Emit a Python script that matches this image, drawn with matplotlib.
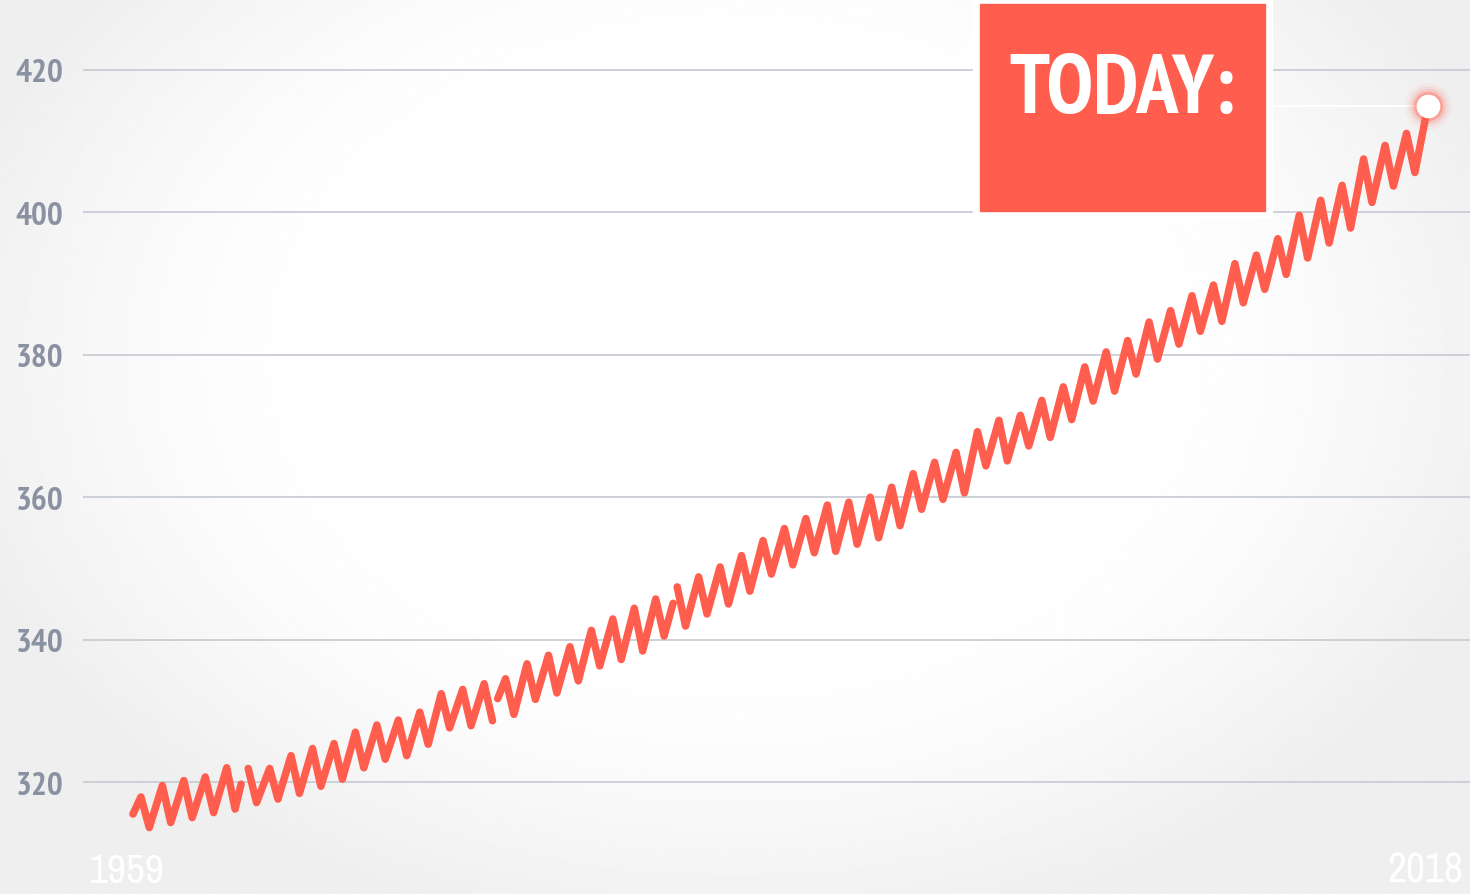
import numpy as np
import matplotlib.pyplot as plt
from matplotlib import font_manager as fm
from matplotlib.patches import Rectangle
from matplotlib.transforms import blended_transform_factory

# Mauna Loa CO2 (ppm), yearly May high and early-autumn low
years = list(range(1959, 2019))
peaks = [317.9, 319.5, 320.2, 320.7, 322.0, 321.9, 321.9, 323.7, 324.7, 325.4,
         327.0, 328.0, 328.7, 329.8, 332.4, 333.0, 333.8, 334.5, 336.6, 337.8,
         339.0, 341.3, 342.9, 344.4, 345.7, 347.4, 348.8, 350.2, 351.8, 353.9,
         355.6, 357.0, 358.9, 359.3, 360.0, 361.4, 363.3, 364.9, 366.3, 369.2,
         370.8, 371.5, 373.6, 375.5, 378.3, 380.4, 382.0, 384.6, 386.2, 388.3,
         389.8, 392.8, 394.0, 396.3, 399.6, 401.7, 403.8, 407.5, 409.4, 411.1]
troughs = [313.6, 314.3, 315.0, 315.7, 316.2, 317.1, 317.6, 318.4, 319.4, 320.4,
           322.0, 323.2, 323.7, 325.3, 327.6, 327.9, 328.6, 329.5, 331.6, 332.5,
           334.2, 336.3, 337.2, 338.4, 340.5, 341.9, 343.6, 345.0, 346.8, 349.2,
           350.5, 352.2, 352.4, 353.4, 354.3, 356.0, 358.3, 359.7, 360.6, 364.4,
           365.1, 367.2, 368.4, 370.9, 373.5, 374.9, 377.3, 379.4, 381.5, 383.3,
           384.7, 387.3, 389.2, 391.3, 393.6, 395.7, 397.8, 401.4, 403.7, 405.6]
peak_month, trough_month = 0.37, 0.76   # fraction of year: May / early Oct

start_point = (1959.0, 315.5)
today_point = (2019.37, 415.0)
# missing months in the record: last value before the gap / first after it
gap_years = [1964, 1976, 1984]
gap_before = [(1964.04, 319.7), None, (1984.18, 345.1)]
gap_after = [None, (1976.0, 331.7), None]

yticks = [320, 340, 360, 380, 400, 420]
xlabels = ["1959", "2018"]

red = "#ff5e4e"
grey_txt = "#8a92a2"
grid_col = "#c9cdd5"


def weight_num(w):
    if isinstance(w, (int, float)):
        return w
    return {"bold": 700, "heavy": 800, "black": 900, "semibold": 600,
            "demibold": 600}.get(str(w).lower(), 400)


def narrow_font(bold):
    # look for a condensed / narrow sans face, else fall back to DejaVu
    found = []
    for f in fm.fontManager.ttflist:
        key = (f.name + " " + f.fname).lower()
        if "mono" in key or "serif" in key or f.style != "normal":
            continue
        if not any(k in key for k in ("narrow", "condensed", "compressed")):
            continue
        if (weight_num(f.weight) >= 600) != bold:
            continue
        rank = 0 if "narrow" in key else 1
        found.append((rank, f.fname))
    if found:
        return fm.FontProperties(fname=sorted(found)[0][1])
    return fm.FontProperties(family="DejaVu Sans", weight="bold" if bold else "normal")


font_bold = narrow_font(True)
font_reg = narrow_font(False)


def fit_text(txt, cap_px, width_px):
    # font size in pt ~ cap height in px at 100 dpi; shrink if too wide
    txt.set_fontsize(cap_px)
    w = txt.get_window_extent(renderer=fig.canvas.get_renderer()).width
    if w > width_px:
        txt.set_fontsize(cap_px * width_px / w)


# build the series
t, v = [start_point[0]], [start_point[1]]
for yr, p, tr in zip(years, peaks, troughs):
    if yr in gap_years:
        k = gap_years.index(yr)
        if gap_before[k]:
            t.append(gap_before[k][0]); v.append(gap_before[k][1])
        t.append(np.nan); v.append(np.nan)
        if gap_after[k]:
            t.append(gap_after[k][0]); v.append(gap_after[k][1])
    t += [yr + peak_month, yr + trough_month]
    v += [p, tr]
t.append(today_point[0]); v.append(today_point[1])

fig = plt.figure(figsize=(14.7, 8.95), dpi=100)

# soft grey vignette, whitest a little above the middle
bg = fig.add_axes([0, 0, 1, 1], zorder=-10)
gx, gy = np.meshgrid(np.linspace(-1, 1, 400), np.linspace(-1, 1, 400))
r = np.sqrt(gx ** 2 + ((gy + 0.2) / 1.2) ** 2)
shade = 1 - 0.065 * np.clip((r - 0.55) / 0.55, 0, 1) ** 1.5
bg.imshow(shade, cmap="gray", vmin=0, vmax=1, extent=[0, 1, 0, 1], aspect="auto")
bg.axis("off")

ax = fig.add_axes([83 / 1470, 0, 1387 / 1470, 1])
ax.set_facecolor("none")
ax.set_xlim(1956.67, 2021.33)
ax.set_ylim(304.27, 429.97)
for s in ax.spines.values():
    s.set_visible(False)

ax.set_yticks(yticks)
ax.set_yticklabels([str(y) for y in yticks], color=grey_txt)
ax.tick_params(axis="y", length=0, pad=14)
ax.set_xticks([])
ax.grid(axis="y", color=grid_col, lw=1.3)
for lab in ax.get_yticklabels():
    lab.set_fontproperties(font_bold)
    fit_text(lab, 24, 50)

ax.plot(t, v, color=red, lw=5.4, solid_joinstyle="round",
        solid_capstyle="round", zorder=3)

# faint level line from the box to today's value
ax.axhline(today_point[1], xmin=(1272 - 83) / 1387, xmax=(1428 - 83) / 1387,
           color="white", lw=1.5, zorder=2)

# glowing end dot
for ms, a in [(34, 0.05), (29, 0.09), (25, 0.16), (21, 0.35)]:
    ax.plot(*today_point, "o", ms=ms, color=red, alpha=a, mec="none", zorder=4)
ax.plot(*today_point, "o", ms=17, color="white", mec="none", zorder=5)

# first / last year labels
trans = blended_transform_factory(ax.transData, ax.transAxes)
for x, lab in [(t[0] - 0.3, xlabels[0]), (t[-1] - 0.1, xlabels[1])]:
    tx = ax.text(x, 0.006, lab, transform=trans, ha="center", va="bottom",
                 fontproperties=font_reg, color="white", zorder=2)
    fit_text(tx, 42, 76)

# TODAY box
fig.patches.append(Rectangle((973 / 1470, (895 - 219) / 895), 299 / 1470, 221 / 895,
                             transform=fig.transFigure, color="white", zorder=6))
fig.patches.append(Rectangle((980 / 1470, (895 - 212) / 895), 285 / 1470, 207 / 895,
                             transform=fig.transFigure, color=red, zorder=7))
today = fig.text(1122.5 / 1470, (895 - 113) / 895, "TODAY:", ha="center",
                 va="baseline", fontproperties=font_bold, color="white", zorder=8)
fit_text(today, 76, 226)

fig.savefig("out.png", dpi=100)
